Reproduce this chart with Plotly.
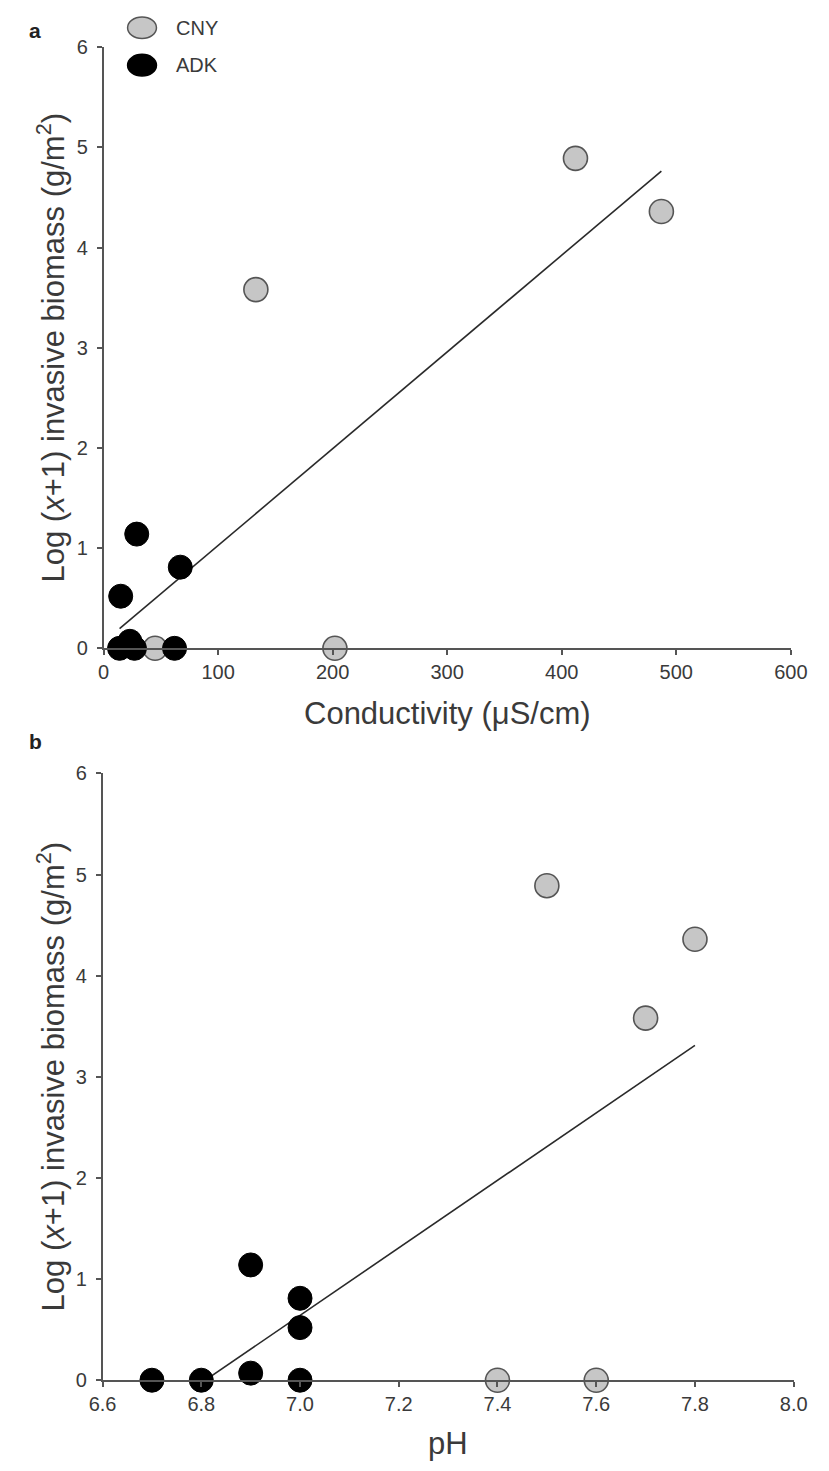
import numpy as np
import plotly.graph_objects as go

# ---------------- data ----------------
cny_cond = [133, 412, 487, 45, 202]
cny_ph = [7.7, 7.5, 7.8, 7.4, 7.6]
cny_bio = [3.58, 4.89, 4.36, 0.0, 0.0]

adk_cond = [15, 29, 67, 23, 14, 27, 62]
adk_ph = [7.0, 6.9, 7.0, 6.9, 6.7, 6.8, 7.0]
adk_bio = [0.52, 1.14, 0.81, 0.07, 0.0, 0.0, 0.0]

group_names = ["CNY", "ADK"]
cond_ticks = [0, 100, 200, 300, 400, 500, 600]
ph_ticks = [6.6, 6.8, 7.0, 7.2, 7.4, 7.6, 7.8, 8.0]
bio_ticks = [0, 1, 2, 3, 4, 5, 6]

W, H = 829, 1471
FONT = "Liberation Sans, Arial, sans-serif"
AXC = "#555555"
TXT = "#3a3a3a"


def px(x):
    return x / W


def py(y):
    return 1 - y / H


fig = go.Figure()

all_cond = np.array(cny_cond + adk_cond, dtype=float)
all_ph = np.array(cny_ph + adk_ph, dtype=float)
all_bio = np.array(cny_bio + adk_bio, dtype=float)

# regression lines (least squares through all sites)
for xs, xa, ya in [(all_cond, "x", "y"), (all_ph, "x2", "y2")]:
    k, b = np.polyfit(xs, all_bio, 1)
    lx = np.array([xs.min(), xs.max()])
    fig.add_trace(go.Scatter(x=lx, y=k * lx + b, mode="lines", xaxis=xa, yaxis=ya,
                             line=dict(color="#2a2a2a", width=1.6), showlegend=False,
                             hoverinfo="skip"))

mk_cny = dict(size=24, color="#c6c6c6", line=dict(color="#555555", width=1.6))
mk_adk = dict(size=24, color="#000000", line=dict(color="#000000", width=1))

fig.add_trace(go.Scatter(x=cny_cond, y=cny_bio, mode="markers", marker=mk_cny,
                         xaxis="x", yaxis="y", cliponaxis=False, showlegend=False))
fig.add_trace(go.Scatter(x=adk_cond, y=adk_bio, mode="markers", marker=mk_adk,
                         xaxis="x", yaxis="y", cliponaxis=False, showlegend=False))
fig.add_trace(go.Scatter(x=cny_ph, y=cny_bio, mode="markers", marker=mk_cny,
                         xaxis="x2", yaxis="y2", cliponaxis=False, showlegend=False))
fig.add_trace(go.Scatter(x=adk_ph, y=adk_bio, mode="markers", marker=mk_adk,
                         xaxis="x2", yaxis="y2", cliponaxis=False, showlegend=False))

axis_common = dict(showline=True, linecolor=AXC, linewidth=1.5, ticks="outside",
                   ticklen=5, tickwidth=1.5, tickcolor=AXC, showgrid=False,
                   zeroline=False, tickfont=dict(family=FONT, size=20, color=TXT))

fig.update_layout(
    width=W, height=H, margin=dict(l=0, r=0, t=0, b=0),
    paper_bgcolor="white", plot_bgcolor="white", showlegend=False,
    xaxis=dict(axis_common, domain=[px(93), px(807)], range=[0, 600],
               tickvals=cond_ticks, anchor="y"),
    yaxis=dict(axis_common, domain=[py(647), py(36.7)], range=[0, 6],
               tickvals=bio_ticks, anchor="x", ticklabelstandoff=5),
    xaxis2=dict(axis_common, domain=[px(92), px(810)], range=[6.6, 8.0],
                tickvals=ph_ticks, tickformat=".1f", anchor="y2"),
    yaxis2=dict(axis_common, domain=[py(1390), py(774)], range=[0, 6],
                tickvals=bio_ticks, anchor="x2", ticklabelstandoff=5),
)

ytitle = "Log (<i>x</i>+1) invasive biomass (g/m<sup>2</sup>)"
TF = dict(family=FONT, size=31, color=TXT)
ann = []
ann.append(dict(text=ytitle, x=px(38), y=py(342), xref="paper", yref="paper",
                textangle=-90, showarrow=False, xanchor="center", yanchor="middle",
                font=TF))
ann.append(dict(text=ytitle, x=px(38), y=py(1082), xref="paper", yref="paper",
                textangle=-90, showarrow=False, xanchor="center", yanchor="middle",
                font=TF))
ann.append(dict(text="Conductivity (\u03bcS/cm)", x=px(450), y=py(713), xref="paper",
                yref="paper", showarrow=False, xanchor="center", yanchor="middle",
                font=TF))
ann.append(dict(text="pH", x=px(451), y=py(1454), xref="paper",
                yref="paper", showarrow=False, xanchor="center", yanchor="middle",
                font=TF))
ann.append(dict(text="<b>a</b>", x=px(22), y=py(20), xref="paper", yref="paper",
                showarrow=False, xanchor="center", yanchor="middle",
                font=dict(family=FONT, size=21, color="#222")))
ann.append(dict(text="<b>b</b>", x=px(22), y=py(742), xref="paper", yref="paper",
                showarrow=False, xanchor="center", yanchor="middle",
                font=dict(family=FONT, size=21, color="#222")))

# legend (drawn manually: ellipse glyph + label)
shapes = []
leg = [(group_names[0], 17, "#c6c6c6", "#555555"), (group_names[1], 55, "#000000", "#000000")]
for name, yc, fc, lc in leg:
    shapes.append(dict(type="circle", xref="paper", yref="paper",
                       x0=px(133 - 15), x1=px(133 + 15), y0=py(yc + 11), y1=py(yc - 11),
                       fillcolor=fc, line=dict(color=lc, width=1.5)))
    ann.append(dict(text=name, x=px(166), y=py(yc), xref="paper", yref="paper",
                    showarrow=False, xanchor="left", yanchor="middle",
                    font=dict(family=FONT, size=20, color=TXT)))

fig.update_layout(annotations=ann, shapes=shapes)

fig.write_html("out.html")
